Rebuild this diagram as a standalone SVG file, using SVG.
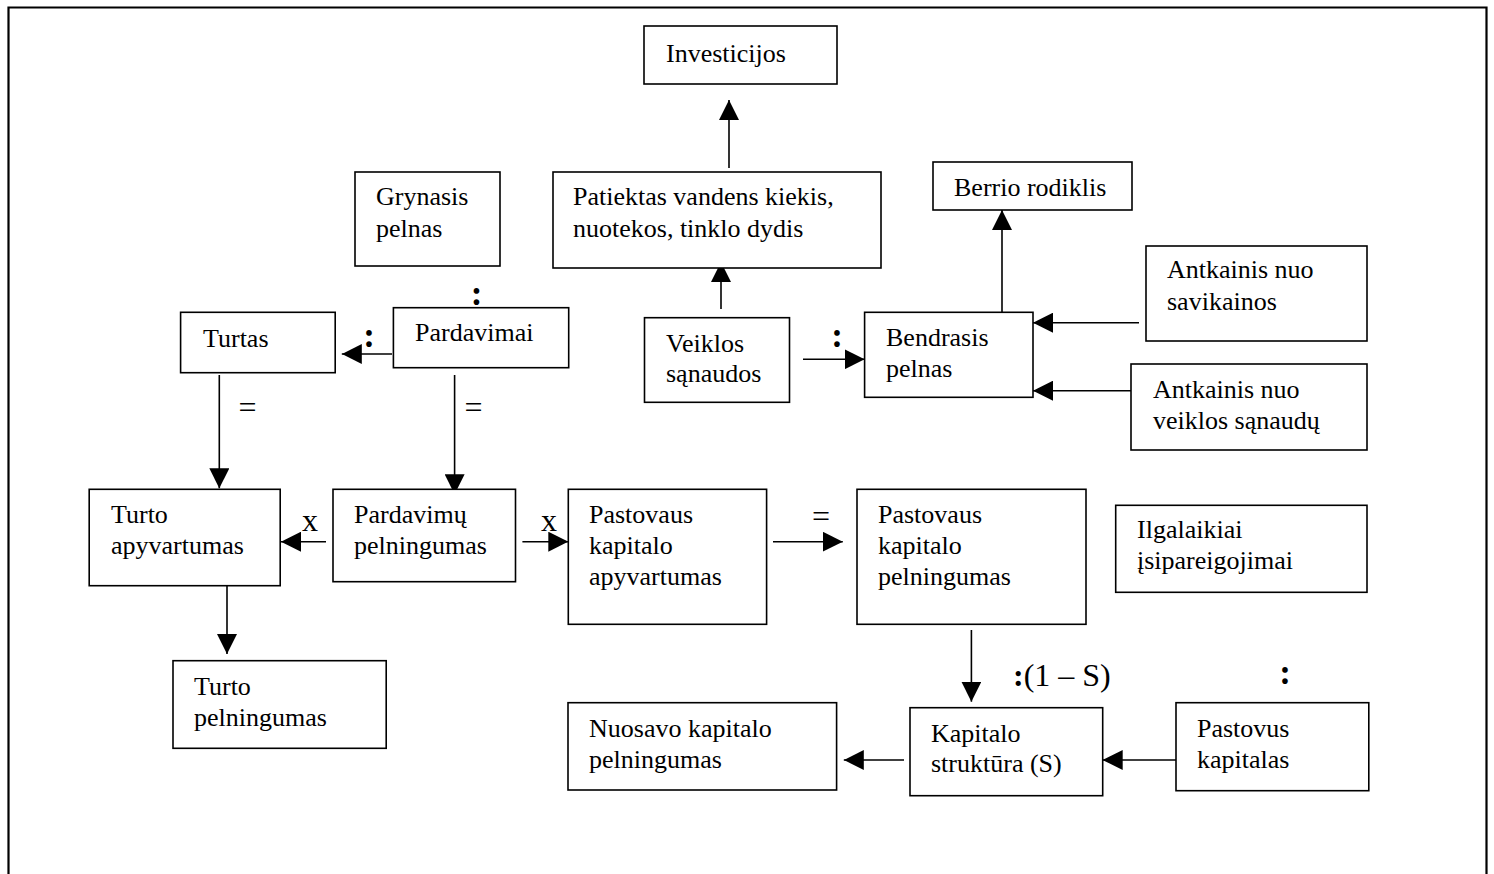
<svg xmlns="http://www.w3.org/2000/svg" width="1494" height="874" viewBox="0 0 1494 874">
<style>
.box{fill:#fff;stroke:#000;stroke-width:1.6}
.t{font-family:"Liberation Serif","Times New Roman",serif;font-size:26px;fill:#000}
.op{font-family:"Liberation Serif","Times New Roman",serif;font-size:32px;fill:#000}
.colon{font-family:"Liberation Serif","Times New Roman",serif;font-size:35px;font-weight:bold;fill:#000}
.c{stroke:#000;stroke-width:1.6;fill:none}
</style>
<defs>
<marker id="ah" markerUnits="userSpaceOnUse" markerWidth="20" markerHeight="20" refX="20" refY="10" orient="auto" viewBox="0 0 20 20">
<path d="M0,0 L20,10 L0,20 Z" fill="#000"/>
</marker>
</defs>
<rect width="1494" height="874" fill="#fff"/>
<path d="M8.5,876 V7.5 H1486.5 V876" fill="none" stroke="#000" stroke-width="2.2"/>

<g id="connectors">
<line class="c" x1="729" y1="168" x2="729" y2="100" marker-end="url(#ah)"/>
<line class="c" x1="721" y1="309" x2="721" y2="262" marker-end="url(#ah)"/>
<line class="c" x1="1002" y1="312" x2="1002" y2="210" marker-end="url(#ah)"/>
<line class="c" x1="1139" y1="322.7" x2="1033" y2="322.7" marker-end="url(#ah)"/>
<line class="c" x1="1131" y1="390.7" x2="1033" y2="390.7" marker-end="url(#ah)"/>
<line class="c" x1="803" y1="359.3" x2="864.6" y2="359.3" marker-end="url(#ah)"/>
<line class="c" x1="392" y1="354" x2="341.8" y2="354" marker-end="url(#ah)"/>
<line class="c" x1="219.3" y1="375" x2="219.3" y2="488.3" marker-end="url(#ah)"/>
<line class="c" x1="454.6" y1="375" x2="454.6" y2="494.3" marker-end="url(#ah)"/>
<line class="c" x1="326" y1="541.7" x2="281" y2="541.7" marker-end="url(#ah)"/>
<line class="c" x1="522.4" y1="541.7" x2="568.3" y2="541.7" marker-end="url(#ah)"/>
<line class="c" x1="773" y1="541.7" x2="842.8" y2="541.7" marker-end="url(#ah)"/>
<line class="c" x1="227" y1="585.7" x2="227" y2="654" marker-end="url(#ah)"/>
<line class="c" x1="971.4" y1="630" x2="971.4" y2="701.7" marker-end="url(#ah)"/>
<line class="c" x1="904" y1="760" x2="843.8" y2="760" marker-end="url(#ah)"/>
<line class="c" x1="1176" y1="760" x2="1102.7" y2="760" marker-end="url(#ah)"/>
<text class="colon" x="476.5" y="304.5" text-anchor="middle">:</text>
<text class="colon" x="369" y="347" text-anchor="middle">:</text>
<text class="colon" x="837" y="347" text-anchor="middle">:</text>
<text class="op" x="247.5" y="418" text-anchor="middle">=</text>
<text class="op" x="473.5" y="418" text-anchor="middle">=</text>
<text class="op" x="821" y="527" text-anchor="middle">=</text>
<text class="op" x="310" y="530.7" text-anchor="middle">x</text>
<text class="op" x="549" y="530.7" text-anchor="middle">x</text>
<text x="1013" y="686" class="op"><tspan font-weight="bold">:</tspan>(1 – S)</text>
<text class="colon" x="1285" y="684" text-anchor="middle">:</text>
</g>

<g id="investicijos"><rect class="box" x="644" y="26" width="193" height="58"/><text class="t" x="666" y="62">Investicijos</text></g>
<g id="patiektas"><rect class="box" x="553" y="172" width="328" height="96"/><text class="t" x="573" y="205">Patiektas vandens kiekis,</text><text class="t" x="573" y="237">nuotekos, tinklo dydis</text></g>
<g id="grynasis"><rect class="box" x="355" y="172" width="145" height="94"/><text class="t" x="376" y="205">Grynasis</text><text class="t" x="376" y="237">pelnas</text></g>
<g id="berrio"><rect class="box" x="933" y="162" width="199" height="48"/><text class="t" x="954" y="196">Berrio rodiklis</text></g>
<g id="savikainos"><rect class="box" x="1146" y="246" width="221" height="95"/><text class="t" x="1167" y="278">Antkainis nuo</text><text class="t" x="1167" y="310">savikainos</text></g>
<g id="veiklos-sanaudu"><rect class="box" x="1131" y="364" width="236" height="86"/><text class="t" x="1153" y="398">Antkainis nuo</text><text class="t" x="1153" y="429">veiklos sąnaudų</text></g>
<g id="veiklos"><rect class="box" x="644.5" y="317.7" width="145" height="84.6"/><text class="t" x="666" y="351.7">Veiklos</text><text class="t" x="666" y="381.7">sąnaudos</text></g>
<g id="bendrasis"><rect class="box" x="864.6" y="312.3" width="168.4" height="85"/><text class="t" x="886" y="346">Bendrasis</text><text class="t" x="886" y="377.3">pelnas</text></g>
<g id="pardavimai"><rect class="box" x="393.4" y="307.7" width="175.3" height="60"/><text class="t" x="415" y="341">Pardavimai</text></g>
<g id="turtas"><rect class="box" x="180.6" y="312.3" width="154.6" height="60.4"/><text class="t" x="203" y="346.7">Turtas</text></g>
<g id="turto-apyvartumas"><rect class="box" x="89.2" y="489.3" width="191" height="96.4"/><text class="t" x="111" y="523.3">Turto</text><text class="t" x="111" y="554">apyvartumas</text></g>
<g id="pardavimu-pelningumas"><rect class="box" x="333" y="489.3" width="182.5" height="92.4"/><text class="t" x="354" y="523.3">Pardavimų</text><text class="t" x="354" y="554">pelningumas</text></g>
<g id="pastovaus-apyvartumas"><rect class="box" x="568.3" y="489.3" width="198.3" height="135"/><text class="t" x="589" y="523.3">Pastovaus</text><text class="t" x="589" y="554">kapitalo</text><text class="t" x="589" y="585">apyvartumas</text></g>
<g id="pastovaus-pelningumas"><rect class="box" x="857" y="489.3" width="229" height="135"/><text class="t" x="878" y="523.3">Pastovaus</text><text class="t" x="878" y="554">kapitalo</text><text class="t" x="878" y="585">pelningumas</text></g>
<g id="ilgalaikiai"><rect class="box" x="1115.7" y="505.3" width="251.3" height="87"/><text class="t" x="1137" y="538.3">Ilgalaikiai</text><text class="t" x="1137" y="569">įsipareigojimai</text></g>
<g id="turto-pelningumas"><rect class="box" x="173" y="660.7" width="213.2" height="87.6"/><text class="t" x="194" y="695">Turto</text><text class="t" x="194" y="725.7">pelningumas</text></g>
<g id="nuosavo"><rect class="box" x="568" y="702.7" width="268.6" height="87.3"/><text class="t" x="589" y="736.7">Nuosavo kapitalo</text><text class="t" x="589" y="768.3">pelningumas</text></g>
<g id="kapitalo-struktura"><rect class="box" x="910" y="707.7" width="192.7" height="88"/><text class="t" x="931" y="742.3">Kapitalo</text><text class="t" x="931" y="772.3">struktūra (S)</text></g>
<g id="pastovus-kapitalas"><rect class="box" x="1176" y="702.7" width="192.8" height="88"/><text class="t" x="1197" y="737">Pastovus</text><text class="t" x="1197" y="768">kapitalas</text></g>
</svg>
